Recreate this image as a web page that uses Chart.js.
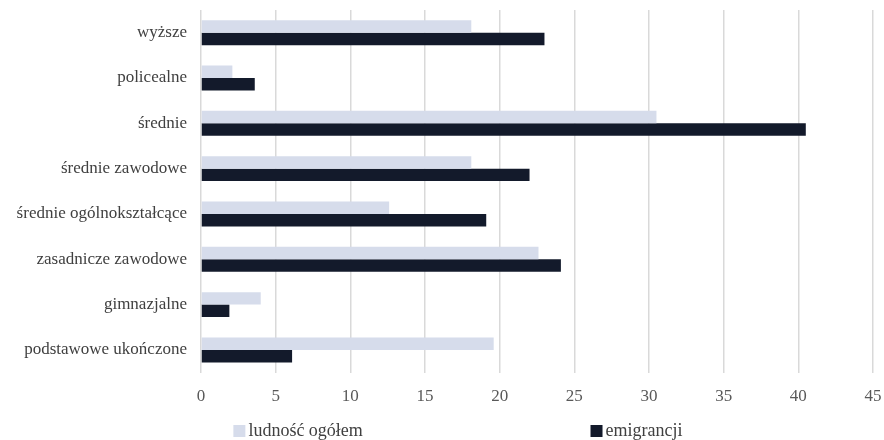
<!DOCTYPE html>
<html>
<head>
<meta charset="utf-8">
<script src="https://cdn.jsdelivr.net/npm/chart.js@4"></script>
<style>
html,body{margin:0;padding:0;background:#fff;}
#wrap{width:884px;height:440px;position:relative;}
</style>
</head>
<body>
<div id="wrap"><canvas id="c"></canvas></div>
<script>
const categories = ["wyższe","policealne","średnie","średnie zawodowe","średnie ogólnokształcące","zasadnicze zawodowe","gimnazjalne","podstawowe ukończone"];
const seriesNames = ["ludność ogółem","emigrancji"];
const ludnosc = [18.1, 2.1, 30.5, 18.1, 12.6, 22.6, 4.0, 19.6];
const emigranci = [23.0, 3.6, 40.5, 22.0, 19.1, 24.1, 1.9, 6.1];
const xTicks = [0,5,10,15,20,25,30,35,40,45];

const FONT = "'Liberation Serif', 'DejaVu Serif', serif";
const colors = ["#D6DCEB", "#131A2B"];

const legendPlugin = {
  id: 'customLegend',
  afterDraw(chart) {
    const ctx = chart.ctx;
    const y = chart.height - 9;
    const xs = [chart.width * 0.264, chart.width * 0.668];
    ctx.save();
    ctx.font = "18px " + FONT;
    ctx.textBaseline = 'middle';
    chart.data.datasets.forEach((ds, i) => {
      ctx.fillStyle = ds.backgroundColor;
      ctx.fillRect(xs[i], y - 6, 12, 12);
      ctx.fillStyle = '#404040';
      ctx.textAlign = 'left';
      ctx.fillText(ds.label, xs[i] + 15, y);
    });
    ctx.restore();
  }
};

new Chart(document.getElementById('c'), {
  type: 'bar',
  data: {
    labels: categories,
    datasets: [
      { label: seriesNames[0], data: ludnosc, backgroundColor: colors[0] },
      { label: seriesNames[1], data: emigranci, backgroundColor: colors[1] }
    ]
  },
  options: {
    indexAxis: 'y',
    responsive: true,
    maintainAspectRatio: false,
    animation: false,
    layout: { padding: { top: 10, right: 11, bottom: 19, left: 0 } },
    datasets: { bar: { barPercentage: 1.0, categoryPercentage: 0.55 } },
    plugins: {
      legend: { display: false },
      tooltip: { enabled: false }
    },
    scales: {
      x: {
        min: 0, max: 45,
        afterBuildTicks(scale) { scale.ticks = xTicks.map(v => ({ value: v })); },
        afterFit(scale) { scale.paddingRight = 0; scale.paddingLeft = 0; },
        grid: { color: '#D9D9D9', lineWidth: 1.5, drawTicks: false },
        border: { display: false },
        ticks: { color: '#595959', font: { family: FONT, size: 17 }, padding: 14 }
      },
      y: {
        afterFit(scale) { scale.width = 201; scale.paddingTop = 0; scale.paddingBottom = 0; },
        grid: { display: false },
        border: { display: false },
        ticks: { color: '#404040', font: { family: FONT, size: 17 }, padding: 6 }
      }
    }
  },
  plugins: [legendPlugin]
});
</script>
</body>
</html>
